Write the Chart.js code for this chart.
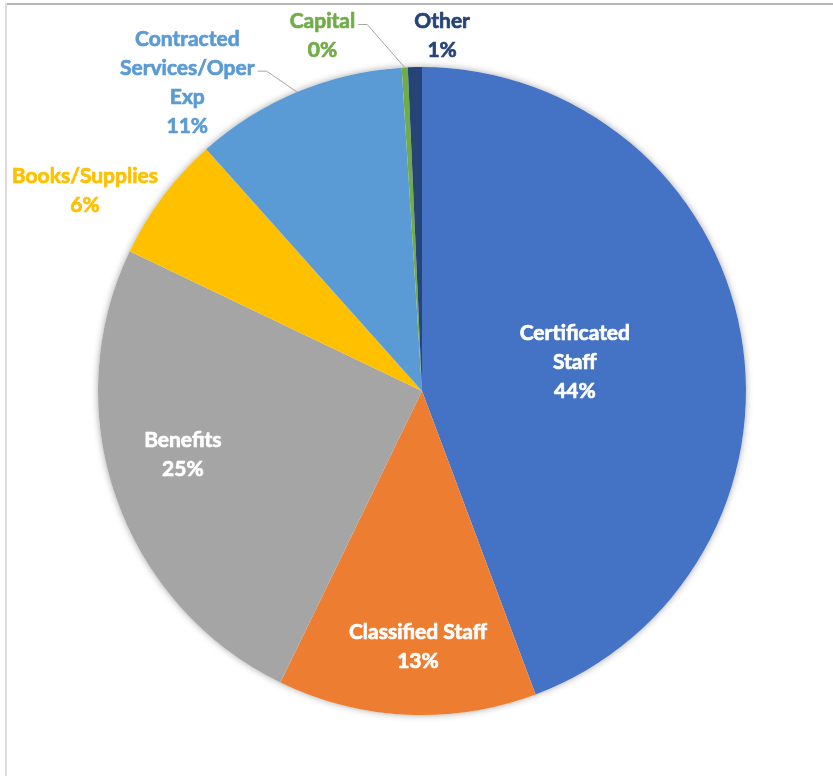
<!DOCTYPE html>
<html>
<head>
<meta charset="utf-8">
<script src="https://cdn.jsdelivr.net/npm/chart.js@4"></script>
<style>
  html, body { margin: 0; padding: 0; background: #fff; }
  #wrap { position: relative; width: 833px; height: 776px; }
  #frameTop { position: absolute; left: 5px; top: 3px; width: 828px; height: 0; border-top: 2px solid #b4b4b4; }
  #frameLeft { position: absolute; left: 5px; top: 3px; width: 0; height: 773px; border-left: 2px solid #dcdcdc; }
</style>
</head>
<body>
<div id="wrap">
  <canvas id="pieCanvas" width="833" height="776"></canvas>
  <div id="frameTop"></div>
  <div id="frameLeft"></div>
</div>
<script>
// data
const categories = ["Certificated Staff", "Classified Staff", "Benefits", "Books/Supplies",
  "Contracted Services/Oper Exp", "Capital", "Other"];
const values = [44.3, 12.9, 24.9, 6.3, 10.6, 0.3, 0.7];

// how each label is broken into lines
const labelLines = [
  ["Certificated", "Staff"],
  ["Classified Staff"],
  ["Benefits"],
  ["Books/Supplies"],
  ["Contracted", "Services/Oper", "Exp"],
  ["Capital"],
  ["Other"]
];

const sliceColors = ["#4472C4", "#ED7D31", "#A5A5A5", "#FFC000", "#5B9BD5", "#70AD47", "#264478"];
const textColors = ["#ffffff", "#ffffff", "#ffffff", "#FFC000", "#5B9BD5", "#70AD47", "#264478"];

// soft shadow under the pie
const pieShadow = {
  id: "pieShadow",
  beforeDatasetsDraw(chart) {
    const arc = chart.getDatasetMeta(0).data[0];
    if (!arc) return;
    const ctx = chart.ctx;
    ctx.save();
    ctx.shadowColor = "rgba(0,0,0,0.35)";
    ctx.shadowBlur = 7;
    ctx.fillStyle = "#ffffff";
    ctx.beginPath();
    ctx.arc(arc.x, arc.y, arc.outerRadius, 0, Math.PI * 2);
    ctx.fill();
    ctx.restore();
  }
};

// slice labels, some outside with leader lines
const sliceLabels = {
  id: "sliceLabels",
  afterDatasetsDraw(chart, args, opts) {
    const ctx = chart.ctx;
    const meta = chart.getDatasetMeta(0);
    const total = values.reduce((a, b) => a + b, 0);
    ctx.save();
    ctx.font = opts.font;
    ctx.textAlign = "center";
    ctx.textBaseline = "middle";
    ctx.lineJoin = "round";
    meta.data.forEach((arc, i) => {
      const p = opts.place[i];
      const mid = (arc.startAngle + arc.endAngle) / 2;
      const a = mid + p.turn * Math.PI / 180;
      const r = arc.outerRadius * p.dist;
      const cx = arc.x + Math.cos(a) * r;
      const cy = arc.y + Math.sin(a) * r;
      const lines = labelLines[i].concat([Math.round(values[i] / total * 100) + "%"]);
      const top = cy - (lines.length - 1) * opts.lineHeight / 2;
      ctx.fillStyle = textColors[i];
      ctx.strokeStyle = textColors[i];
      ctx.lineWidth = 0.7;
      lines.forEach((t, k) => {
        ctx.fillText(t, cx, top + k * opts.lineHeight);
        ctx.strokeText(t, cx, top + k * opts.lineHeight);
      });
      if (p.leader != null) {
        const ly = top + p.leader * opts.lineHeight + 3;
        const lx = cx + ctx.measureText(lines[p.leader]).width / 2 + 3;
        const ex = arc.x + Math.cos(mid) * arc.outerRadius;
        const ey = arc.y + Math.sin(mid) * arc.outerRadius;
        ctx.strokeStyle = "#a6a6a6";
        ctx.lineWidth = 1;
        ctx.beginPath();
        ctx.moveTo(lx, ly);
        ctx.lineTo(lx + 9, ly);
        ctx.lineTo(ex, ey);
        ctx.stroke();
      }
    });
    ctx.restore();
  }
};

new Chart(document.getElementById("pieCanvas"), {
  type: "pie",
  data: {
    labels: categories,
    datasets: [{
      data: values,
      backgroundColor: sliceColors,
      borderColor: sliceColors,
      borderWidth: 0
    }]
  },
  options: {
    responsive: false,
    animation: false,
    layout: { padding: { left: 98, right: 87, top: 67, bottom: 61 } },
    plugins: {
      legend: { display: false },
      tooltip: { enabled: false },
      sliceLabels: {
        font: "bold 21px Lato",
        lineHeight: 29,
        place: [
          { dist: 0.48, turn: -0.4 },
          { dist: 0.79, turn: -1.8 },
          { dist: 0.764, turn: 4.3 },
          { dist: 1.21, turn: -6.2 },
          { dist: 1.196, turn: -14.6, leader: 1 },
          { dist: 1.138, turn: -12.6, leader: 0 },
          { dist: 1.098, turn: 4.5 }
        ]
      }
    }
  },
  plugins: [pieShadow, sliceLabels]
});
</script>
</body>
</html>
